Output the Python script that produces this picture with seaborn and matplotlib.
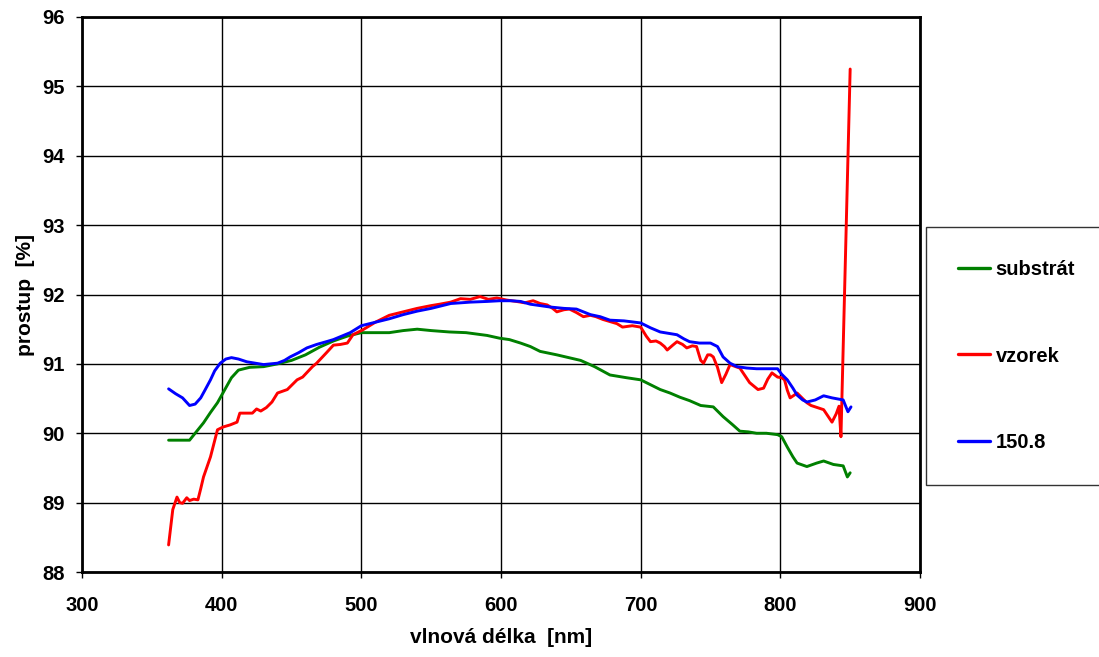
import numpy as np
import pandas as pd
import matplotlib
matplotlib.use("Agg")
import matplotlib.pyplot as plt
import seaborn as sns

# substrát
sub_x = [362, 370, 377, 383, 387, 392, 397, 402, 407, 412, 420, 430, 440, 450, 460, 470, 480, 490, 500,
         510, 520, 530, 540, 550, 563, 575, 590, 599, 606, 614, 621, 628, 640, 657, 667, 678, 690, 700,
         707, 714, 721, 728, 735, 743, 752, 759, 766, 771, 777, 783, 790, 798, 801, 805, 809, 812, 819,
         826, 831, 838, 845, 848, 850]
sub_y = [89.90, 89.90, 89.90, 90.05, 90.15, 90.30, 90.44, 90.62, 90.80, 90.91, 90.95, 90.96, 91.00, 91.05,
         91.13, 91.24, 91.33, 91.40, 91.45, 91.45, 91.45, 91.48, 91.50, 91.48, 91.46, 91.45, 91.41, 91.37,
         91.35, 91.30, 91.25, 91.18, 91.13, 91.05, 90.96, 90.84, 90.80, 90.77, 90.70, 90.63, 90.58, 90.52,
         90.47, 90.40, 90.38, 90.24, 90.12, 90.03, 90.02, 90.00, 90.00, 89.98, 89.95, 89.80, 89.66, 89.57,
         89.52, 89.57, 89.60, 89.55, 89.53, 89.37, 89.43]

# vzorek
vz_x = [362, 365, 368, 370, 372, 375, 377, 380, 383, 385, 387, 392, 397, 401, 406, 411, 413, 418, 422,
        425, 428, 432, 436, 440, 447, 454, 458, 465, 468, 475, 480, 485, 490, 494, 501, 510, 520, 530,
        540, 550, 556, 564, 571, 578, 585, 591, 597, 604, 611, 617, 623, 628, 633, 637, 640, 645, 649,
        654, 659, 664, 668, 673, 678, 683, 687, 694, 700, 704, 707, 711, 714, 717, 719, 723, 726, 730,
        733, 737, 740, 743, 745, 748, 750, 752, 755, 758, 761, 764, 768, 771, 775, 778, 781, 784, 788,
        791, 794, 798, 801, 803, 805, 807, 810, 812, 816, 819, 822, 825, 828, 831, 834, 837, 840, 842,
        843.4, 850]
vz_y = [88.39, 88.90, 89.08, 89.00, 88.99, 89.07, 89.03, 89.05, 89.04, 89.20, 89.37, 89.66, 90.05, 90.09,
        90.12, 90.16, 90.29, 90.29, 90.29, 90.35, 90.32, 90.37, 90.45, 90.58, 90.63, 90.77, 90.81, 90.96,
        91.01, 91.16, 91.27, 91.28, 91.30, 91.42, 91.49, 91.60, 91.70, 91.75, 91.80, 91.84, 91.86, 91.89,
        91.94, 91.93, 91.97, 91.93, 91.95, 91.92, 91.90, 91.88, 91.91, 91.87, 91.85, 91.80, 91.75, 91.78,
        91.79, 91.74, 91.68, 91.70, 91.68, 91.64, 91.61, 91.58, 91.53, 91.55, 91.53, 91.40, 91.32, 91.33,
        91.30, 91.25, 91.20, 91.27, 91.32, 91.28, 91.23, 91.26, 91.25, 91.05, 91.01, 91.13, 91.13, 91.10,
        90.95, 90.73, 90.85, 90.99, 90.96, 90.94, 90.82, 90.73, 90.68, 90.63, 90.65, 90.78, 90.87, 90.81,
        90.80, 90.77, 90.62, 90.51, 90.55, 90.58, 90.50, 90.44, 90.40, 90.38, 90.36, 90.34, 90.25, 90.16,
        90.28, 90.39, 89.95, 95.25]

# 150.8
b_x = [362, 367, 372, 377, 381, 385, 388, 392, 395, 399, 403, 407, 412, 418, 424, 430, 435, 440, 445,
       449, 455, 461, 468, 475, 480, 486, 492, 500, 510, 520, 530, 540, 550, 564, 578, 590, 599, 607,
       614, 621, 628, 635, 645, 654, 664, 671, 678, 688, 700, 707, 714, 720, 726, 731, 735, 742, 750,
       755, 759, 764, 769, 776, 783, 790, 798, 801, 805, 809, 812, 816, 819, 825, 831, 837, 845, 848.4,
       850.6]
b_y = [90.64, 90.57, 90.51, 90.40, 90.42, 90.51, 90.62, 90.77, 90.90, 91.01, 91.07, 91.09, 91.07, 91.03,
       91.01, 90.99, 91.00, 91.01, 91.05, 91.10, 91.16, 91.23, 91.28, 91.32, 91.35, 91.40, 91.45, 91.55,
       91.60, 91.65, 91.71, 91.76, 91.80, 91.87, 91.89, 91.90, 91.91, 91.91, 91.90, 91.86, 91.84, 91.82,
       91.80, 91.79, 91.71, 91.68, 91.63, 91.62, 91.59, 91.52, 91.46, 91.44, 91.42, 91.36, 91.32, 91.30,
       91.30, 91.25, 91.10, 91.01, 90.96, 90.94, 90.93, 90.93, 90.93, 90.85, 90.77, 90.65, 90.55, 90.48,
       90.45, 90.48, 90.54, 90.51, 90.48, 90.31, 90.38]

labels = ["substrát", "vzorek", "150.8"]
colors = ["#008000", "#FF0000", "#0000FF"]

df = pd.concat([
    pd.DataFrame({"x": sub_x, "y": sub_y, "s": labels[0]}),
    pd.DataFrame({"x": vz_x, "y": vz_y, "s": labels[1]}),
    pd.DataFrame({"x": b_x, "y": b_y, "s": labels[2]}),
], ignore_index=True)

sns.set_theme(style="white")
plt.rcParams["font.family"] = ["Liberation Sans", "DejaVu Sans"]
plt.rcParams["font.weight"] = "bold"
plt.rcParams["text.color"] = "black"
plt.rcParams["axes.labelcolor"] = "black"

fig = plt.figure(figsize=(10.99, 6.57), dpi=100)
ax = fig.add_axes([82/1099, 85/657, 838/1099, 555/657])

sns.lineplot(data=df, x="x", y="y", hue="s", palette=dict(zip(labels, colors)),
             sort=False, estimator=None, linewidth=2.1, ax=ax, legend=False)

ax.set_xlim(300, 900)
ax.set_ylim(88, 96)
ax.set_xticks(range(300, 901, 100))
ax.set_yticks(range(88, 97, 1))
ax.grid(True, color="black", linewidth=1.0)
ax.set_axisbelow(True)
for sp in ax.spines.values():
    sp.set_color("black")
    sp.set_linewidth(2.0)
ax.tick_params(axis="both", labelsize=14.5, direction="out", length=4.5, width=1.0,
               colors="black", left=True, bottom=True)
ax.tick_params(axis="y", pad=8)
ax.tick_params(axis="x", pad=13)
for t in ax.get_xticklabels() + ax.get_yticklabels():
    t.set_fontweight("bold")
ax.set_xlabel("vlnová délka  [nm]", fontsize=15, fontweight="bold", labelpad=9)
ax.set_ylabel("prostup  [%]", fontsize=15, fontweight="bold", labelpad=5)

handles = [plt.Line2D([], [], color=c, linewidth=2.4) for c in colors]
leg = fig.legend(handles, labels, loc="center left",
                 bbox_to_anchor=(926/1099, (657-356)/657),
                 frameon=True, fancybox=False, edgecolor="black",
                 prop={"size": 14.5, "weight": "bold"},
                 labelspacing=3.37, handlelength=1.6, handletextpad=0.25,
                 borderpad=1.6, borderaxespad=0)
leg.get_frame().set_linewidth(1.0)

fig.savefig("out.png", dpi=100)
